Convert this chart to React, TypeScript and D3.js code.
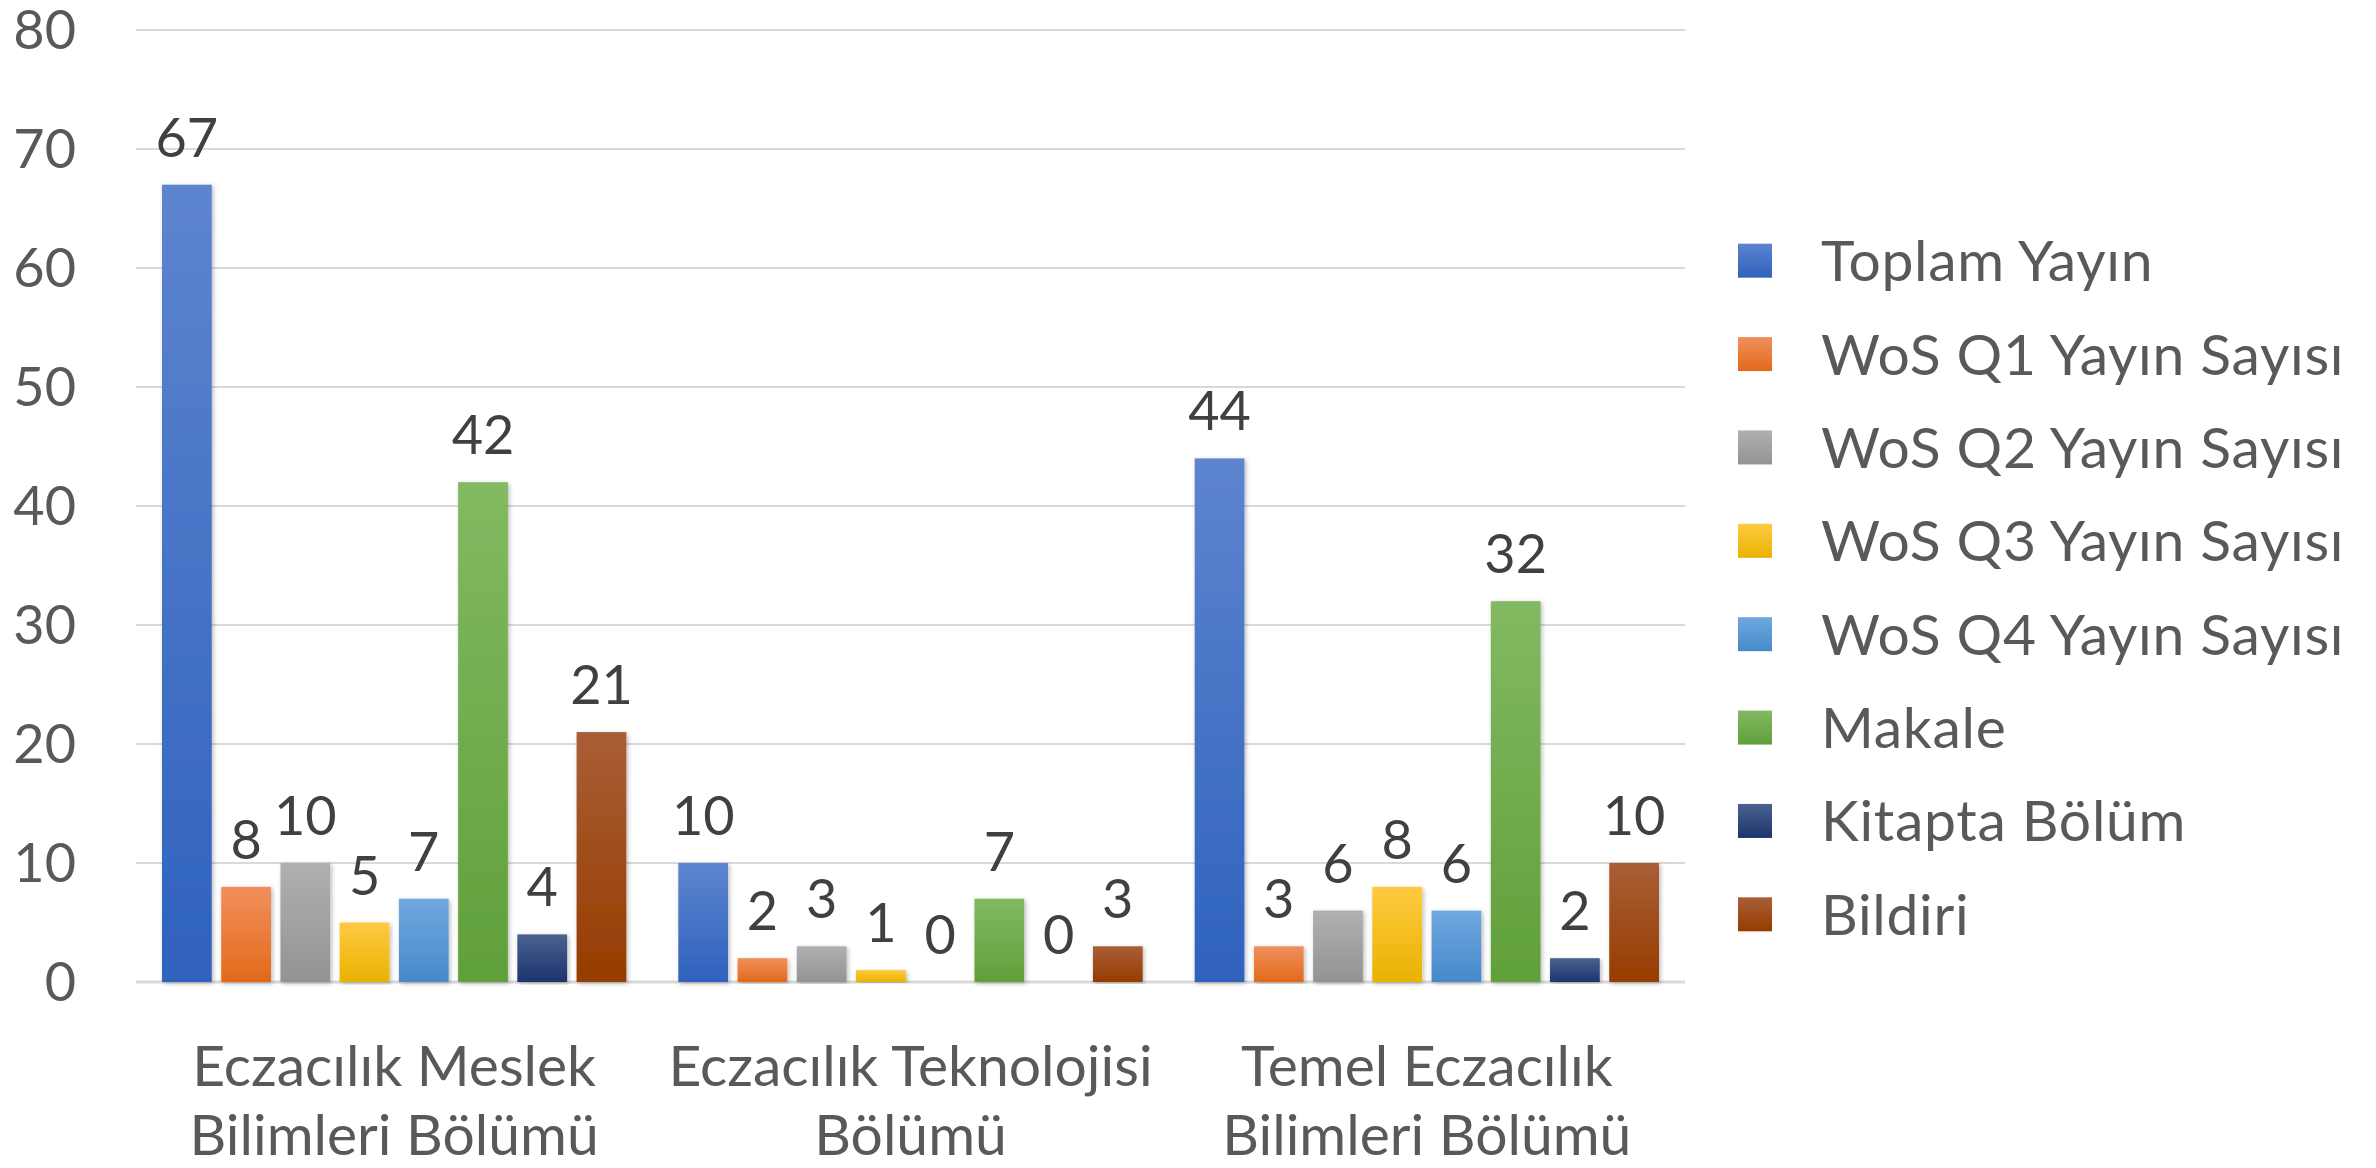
import React from 'react'
import * as d3 from 'd3'

const categories = [
  ['Eczacılık Meslek', 'Bilimleri Bölümü'],
  ['Eczacılık Teknolojisi', 'Bölümü'],
  ['Temel Eczacılık', 'Bilimleri Bölümü'],
]
const seriesNames = [
  'Toplam Yayın',
  'WoS Q1 Yayın Sayısı',
  'WoS Q2 Yayın Sayısı',
  'WoS Q3 Yayın Sayısı',
  'WoS Q4 Yayın Sayısı',
  'Makale',
  'Kitapta Bölüm',
  'Bildiri',
]
// one row per category, one value per series
const meslekValues = [67, 8, 10, 5, 7, 42, 4, 21]
const teknolojiValues = [10, 2, 3, 1, 0, 7, 0, 3]
const temelValues = [44, 3, 6, 8, 6, 32, 2, 10]
const yTicks = [0, 10, 20, 30, 40, 50, 60, 70, 80]

const values = [meslekValues, teknolojiValues, temelValues]

// gradient top / bottom per series (Office style)
const topColors = ['#5d84cf', '#f1905c', '#b0b0b0', '#ffca42', '#70a8de', '#82b962', '#4c6190', '#a95e36']
const bottomColors = ['#2f62bd', '#e2691a', '#939393', '#e9b200', '#4689cb', '#60a03a', '#1b356d', '#963c00']

const W = 2376
const H = 1168
const FONT = 'Lato, "Open Sans", sans-serif'

export default function App() {
  const y = d3.scaleLinear().domain([0, 80]).range([982, 30])
  const x0 = d3.scaleBand<number>().domain(d3.range(categories.length)).range([136, 1685])
  const x1 = d3.scaleBand<number>()
    .domain(d3.range(seriesNames.length))
    .range([26, x0.bandwidth() - 26])
    .paddingInner(0.16)

  const legendY = d3.scaleBand<number>().domain(d3.range(seriesNames.length)).range([214, 961])

  return (
    <div style={{ position: 'absolute', left: 0, top: 0 }}>
      <svg width={W} height={H} style={{ display: 'block', background: '#fff' }} fontFamily={FONT}>
        <defs>
          {seriesNames.map((_, i) => (
            <linearGradient key={i} id={`g${i}`} x1="0" y1="0" x2="0" y2="1">
              <stop offset="0" stopColor={topColors[i]} />
              <stop offset="1" stopColor={bottomColors[i]} />
            </linearGradient>
          ))}
          <filter id="shadow" x="-20%" y="-5%" width="140%" height="110%">
            <feDropShadow dx="1.5" dy="1.5" stdDeviation="2" floodColor="#000" floodOpacity="0.28" />
          </filter>
        </defs>

        {/* gridlines */}
        {yTicks.map(t => (
          <line key={t} x1={136} x2={1685} y1={y(t)} y2={y(t)}
            stroke="#d9d9d9" strokeWidth={t === 0 ? 3 : 2} />
        ))}

        {/* y tick labels */}
        {yTicks.map(t => (
          <text key={t} x={76} y={y(t)} dy="0.36em" textAnchor="end" fontSize={54} fill="#595959">
            {t}
          </text>
        ))}

        {/* bars */}
        {values.map((row, ci) => (
          <g key={ci} transform={`translate(${x0(ci)},0)`}>
            {row.map((v, si) => (
              <g key={si}>
                {v > 0 && (
                  <rect x={x1(si)} y={y(v)} width={x1.bandwidth()} height={y(0) - y(v)}
                    fill={`url(#g${si})`} filter="url(#shadow)" />
                )}
                <text x={x1(si)! + x1.bandwidth() / 2} y={y(v) - 28} textAnchor="middle"
                  fontSize={54} fill="#404040">
                  {v}
                </text>
              </g>
            ))}
          </g>
        ))}

        {/* category labels */}
        {categories.map((lines, ci) => (
          <text key={ci} textAnchor="middle" fontSize={57} fill="#595959">
            {lines.map((l, li) => (
              <tspan key={li} x={x0(ci)! + x0.bandwidth() / 2} y={1086 + li * 69}>{l}</tspan>
            ))}
          </text>
        ))}

        {/* legend */}
        {seriesNames.map((name, i) => {
          const cy = legendY(i)! + legendY.bandwidth() / 2
          return (
            <g key={i}>
              <rect x={1738} y={cy - 17} width={34} height={34} fill={`url(#g${i})`} />
              <text x={1821} y={cy} dy="0.36em" fontSize={57} fill="#595959" letterSpacing={0.7}>
                {name}
              </text>
            </g>
          )
        })}
      </svg>
    </div>
  )
}
